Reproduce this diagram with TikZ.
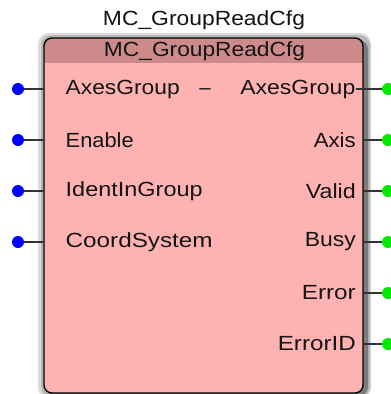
\documentclass[tikz,border=0pt]{standalone}
\usepackage{graphicx}
\usepackage{fontspec}
\setmainfont{Liberation Sans}
\definecolor{bodypink}{RGB}{255,178,178}
\definecolor{headpink}{RGB}{204,138,138}
\definecolor{pinblue}{RGB}{0,0,255}
\definecolor{pingreen}{RGB}{0,235,0}
\definecolor{shadowgray}{RGB}{110,110,110}
\newcommand{\fitto}[2]{\resizebox{#1pt}{\height}{#2}}
\begin{document}
\begin{tikzpicture}[x=1pt,y=-1pt,
  lbl/.style={inner sep=0pt,font=\fontsize{20.5}{22}\selectfont,text=black!92},
  inlbl/.style={lbl,anchor=west},
  outlbl/.style={lbl,anchor=east},
  indot/.style={circle,fill=pinblue,inner sep=0pt,minimum size=12pt},
  outdot/.style={circle,fill=pingreen,inner sep=0pt,minimum size=12pt},
  pinline/.style={draw=black!80,line width=1.2pt}]
\useasboundingbox (0,0) rectangle (391,394);
\fill[white] (0,0) rectangle (391,394);
% shadow
\fill[shadowgray!25,rounded corners=11pt] (38,33) rectangle (371,399);
\fill[shadowgray!50,rounded corners=10pt] (41,35) rectangle (370,397);
\fill[shadowgray!90,rounded corners=9pt] (47,40) rectangle (368,396);
% box
\fill[bodypink,rounded corners=8pt] (44,38) rectangle (363,393);
\begin{scope}
\clip[rounded corners=8pt] (44,38) rectangle (363,393);
\fill[headpink] (44,38) rectangle (363,63);
\end{scope}
\draw[black,line width=1.4pt,rounded corners=8pt] (44,38) rectangle (363,393);
% titles
\node[lbl] (title) at (204,20) {\fitto{202}{MC\_GroupReadCfg}};
\node[lbl] (head) at (204.5,51) {\fitto{201}{MC\_GroupReadCfg}};
% inputs
\foreach \n/\t/\w/\y in {a/AxesGroup/114/89,b/Enable/68/140,c/IdentInGroup/137/191,d/CoordSystem/147/242}{
  \node[indot] (i\n) at (18,\y) {};
  \coordinate (ie\n) at (44,\y);
  \draw[pinline] (i\n) -- (ie\n);
  \node[inlbl] (il\n) at (65.5,\y) {\fitto{\w}{\t}};
}
\coordinate (dashx) at (205,0);
\node[lbl,anchor=base] (dash) at (ila.base -| dashx) {–};
% outputs
\foreach \n/\t/\w/\y in {b/Axis/42/140,c/Valid/50/191,d/Busy/51/242,e/Error/54/293,f/ErrorID/78/344}{
  \node[outdot] (o\n) at (388,\y) {};
  \coordinate (oe\n) at (363,\y);
  \draw[pinline] (oe\n) -- (o\n);
  \node[outlbl] (ol\n) at (356,\y) {\fitto{\w}{\t}};
}
\node[outdot] (oa) at (388,89) {};
\node[outlbl] (ola) at (355.5,89) {\fitto{115}{AxesGroup}};
\draw[pinline] (ola.east) -- (oa);
\end{tikzpicture}
\end{document}
